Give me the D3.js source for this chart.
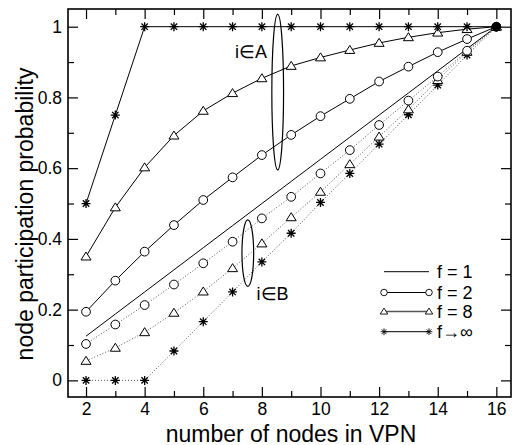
<!DOCTYPE html>
<html>
<head>
<meta charset="utf-8">
<script src="https://cdn.jsdelivr.net/npm/d3@7"></script>
<style>
  body { margin: 0; background: #fff; }
  text { font-family: "Liberation Sans", Arial, sans-serif; fill: #000; }
</style>
</head>
<body>
<div class="chart"></div>
<script>
// x values: number of nodes in VPN
var nodes = [2, 3, 4, 5, 6, 7, 8, 9, 10, 11, 12, 13, 14, 15, 16];

// i in A
var fInfA = [0.5, 0.75, 1, 1, 1, 1, 1, 1, 1, 1, 1, 1, 1, 1, 1];
var f8A = [0.35, 0.489, 0.602, 0.692, 0.762, 0.812, 0.854, 0.889, 0.913, 0.934, 0.954, 0.970, 0.983, 0.993, 1];
var f2A = [0.194, 0.282, 0.364, 0.439, 0.510, 0.574, 0.637, 0.694, 0.747, 0.796, 0.845, 0.887, 0.928, 0.965, 1];
// f = 1 (same for both)
var f1 = [0.125, 0.1875, 0.25, 0.3125, 0.375, 0.4375, 0.5, 0.5625, 0.625, 0.6875, 0.75, 0.8125, 0.875, 0.9375, 1];
// i in B
var f2B = [0.103, 0.158, 0.213, 0.271, 0.331, 0.392, 0.458, 0.519, 0.585, 0.651, 0.722, 0.791, 0.859, 0.932, 1];
var f8B = [0.055, 0.092, 0.136, 0.191, 0.251, 0.317, 0.387, 0.461, 0.533, 0.611, 0.689, 0.766, 0.849, 0.929, 1];
var fInfB = [0, 0, 0, 0.083, 0.166, 0.25, 0.335, 0.416, 0.503, 0.585, 0.668, 0.751, 0.835, 0.92, 1];

var xMajor = [2, 4, 6, 8, 10, 12, 14, 16];
var xMinor = [3, 5, 7, 9, 11, 13, 15];
var yMajor = [0, 0.2, 0.4, 0.6, 0.8, 1];
var yMinor = [0.1, 0.3, 0.5, 0.7, 0.9];

var legendLabels = ["f = 1", "f = 2", "f = 8", "f\u2192\u221E"];

var width = 512, height = 445;
var box = { left: 68, top: 9, right: 511, bottom: 397 };

var svg = d3.select(".chart").append("svg")
  .attr("width", width)
  .attr("height", height);

var x = d3.scaleLinear().domain([1.385, 16.5]).range([box.left, box.right]);
var y = d3.scaleLinear().domain([-0.047, 1.05]).range([box.bottom, box.top]);

// axes: ticks point inward on all four sides
var fmt = d3.format("~g");
var addAxis = function (axis, tx, ty, labels) {
  var g = svg.append("g").attr("transform", "translate(" + tx + "," + ty + ")").call(axis);
  g.select(".domain").remove();
  g.selectAll(".tick line").attr("stroke", "#000").attr("stroke-width", 1.2);
  if (!labels) g.selectAll(".tick text").remove();
  else g.selectAll(".tick text").attr("font-size", 17.5).attr("fill", "#000")
    .attr("font-family", "Liberation Sans, Arial, sans-serif");
  return g;
};

addAxis(d3.axisBottom(x).tickValues(xMajor).tickFormat(fmt).tickSizeInner(-10).tickSizeOuter(0).tickPadding(6), 0, box.bottom, true);
addAxis(d3.axisBottom(x).tickValues(xMinor).tickSizeInner(-6).tickSizeOuter(0), 0, box.bottom, false);
addAxis(d3.axisTop(x).tickValues(xMajor).tickSizeInner(-10).tickSizeOuter(0), 0, box.top, false);
addAxis(d3.axisTop(x).tickValues(xMinor).tickSizeInner(-6).tickSizeOuter(0), 0, box.top, false);
addAxis(d3.axisLeft(y).tickValues(yMajor).tickFormat(fmt).tickSizeInner(-10).tickSizeOuter(0).tickPadding(6), box.left, 0, true);
addAxis(d3.axisLeft(y).tickValues(yMinor).tickSizeInner(-6).tickSizeOuter(0), box.left, 0, false);
addAxis(d3.axisRight(y).tickValues(yMajor).tickSizeInner(-10).tickSizeOuter(0), box.right, 0, false);
addAxis(d3.axisRight(y).tickValues(yMinor).tickSizeInner(-6).tickSizeOuter(0), box.right, 0, false);

svg.append("rect")
  .attr("x", box.left).attr("y", box.top)
  .attr("width", box.right - box.left).attr("height", box.bottom - box.top)
  .attr("fill", "none").attr("stroke", "#000").attr("stroke-width", 1.6);

// marker shapes
var markerPath = function (kind) {
  if (kind === "circle") return d3.symbol(d3.symbolCircle, 60)();
  if (kind === "triangle") return "M0,-4.6L5,3.4L-5,3.4Z";
  if (kind === "star") return "M-4.5,0H4.5M0,-4.5V4.5M-3.2,-3.2L3.2,3.2M-3.2,3.2L3.2,-3.2";
  return null;
};

var line = d3.line()
  .x(function (d) { return x(d[0]); })
  .y(function (d) { return y(d[1]); });

var series = [
  { values: f1, marker: null, dotted: false },
  { values: fInfB, marker: "star", dotted: true },
  { values: f8B, marker: "triangle", dotted: true },
  { values: f2B, marker: "circle", dotted: true },
  { values: f2A, marker: "circle", dotted: false },
  { values: f8A, marker: "triangle", dotted: false },
  { values: fInfA, marker: "star", dotted: false }
];

series.forEach(function (s) {
  var pts = nodes.map(function (n, i) { return [n, s.values[i]]; });
  svg.append("path")
    .attr("d", line(pts))
    .attr("fill", "none")
    .attr("stroke", s.dotted ? "#555" : "#000")
    .attr("stroke-width", 1)
    .attr("stroke-dasharray", s.dotted ? "1,2" : null);
  if (s.marker) {
    svg.selectAll(null).data(pts).enter().append("path")
      .attr("d", markerPath(s.marker))
      .attr("transform", function (d) { return "translate(" + x(d[0]) + "," + y(d[1]) + ")"; })
      .attr("fill", s.marker === "star" ? "none" : "#fff")
      .attr("stroke", "#000")
      .attr("stroke-width", s.marker === "star" ? 1.3 : 1);
  }
});

// all curves meet at (16, 1)
svg.append("circle")
  .attr("cx", x(16)).attr("cy", y(1)).attr("r", 4.5)
  .attr("fill", "#000");

// ellipses grouping the A and B curves
var groups = [
  { cx: 8.54, cy: 0.815, rx: 0.2, ry: 0.22, label: "i\u2208A", lx: 7.08, ly: 0.912 },
  { cx: 7.52, cy: 0.36, rx: 0.2, ry: 0.094, label: "i\u2208B", lx: 7.82, ly: 0.227 }
];
groups.forEach(function (g) {
  svg.append("ellipse")
    .attr("cx", x(g.cx)).attr("cy", y(g.cy))
    .attr("rx", x(g.cx + g.rx) - x(g.cx))
    .attr("ry", y(g.cy - g.ry) - y(g.cy))
    .attr("fill", "none").attr("stroke", "#000").attr("stroke-width", 1.2);
  svg.append("text")
    .attr("x", x(g.lx)).attr("y", y(g.ly))
    .attr("font-size", 18)
    .text(g.label);
});

// legend
var legendMarkers = [null, "circle", "triangle", "star"];
var legendRows = [271.7, 292.5, 311.5, 331.7];
legendLabels.forEach(function (lab, i) {
  var ly = legendRows[i];
  svg.append("line")
    .attr("x1", 384).attr("x2", 429).attr("y1", ly).attr("y2", ly)
    .attr("stroke", i === 2 ? "#555" : "#000")
    .attr("stroke-width", i === 2 ? 1.6 : 1);
  if (legendMarkers[i]) {
    [384, 429].forEach(function (mx) {
      svg.append("path")
        .attr("d", markerPath(legendMarkers[i]))
        .attr("transform", "translate(" + mx + "," + ly + ") scale(0.75)")
        .attr("fill", legendMarkers[i] === "star" ? "none" : "#fff")
        .attr("stroke", "#000").attr("stroke-width", 1.2);
    });
  }
  svg.append("text")
    .attr("x", 437).attr("y", ly + 6.5)
    .attr("font-size", 18)
    .text(lab);
});

// axis titles
svg.append("text")
  .attr("x", (165 + 417) / 2).attr("y", 441.5)
  .attr("text-anchor", "middle")
  .attr("font-size", 23)
  .text("number of nodes in VPN");

svg.append("text")
  .attr("transform", "translate(33," + ((55 + 373) / 2) + ") rotate(-90)")
  .attr("text-anchor", "middle")
  .attr("font-size", 23)
  .text("node participation probability");
</script>
</body>
</html>
